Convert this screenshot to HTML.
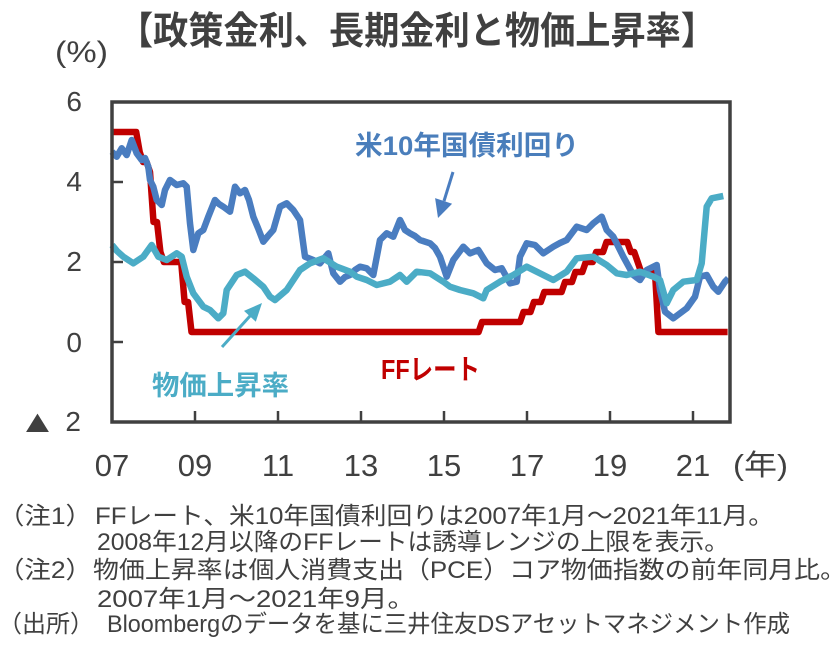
<!DOCTYPE html>
<html><head><meta charset="utf-8"><style>
html,body{margin:0;padding:0;background:#fff;}
svg{display:block;}
text{font-family:"Liberation Sans","Noto Sans CJK JP",sans-serif;}
</style></head><body>
<svg width="833" height="658" viewBox="0 0 833 658" xmlns="http://www.w3.org/2000/svg">
<rect width="833" height="658" fill="#fff"/>
<text x="118" y="44" font-size="38" font-weight="bold" fill="#404040" textLength="598" lengthAdjust="spacingAndGlyphs">【政策金利、長期金利と物価上昇率】</text>
<text x="55" y="62" font-size="30" fill="#404040" textLength="53" lengthAdjust="spacingAndGlyphs">(%)</text>

<g font-size="28" fill="#404040" text-anchor="end">
<text x="82" y="111">6</text>
<text x="82" y="191">4</text>
<text x="82" y="271">2</text>
<text x="82" y="352">0</text>
<text x="81" y="431">2</text>
</g>
<text x="26" y="429" font-size="24" fill="#404040" style="font-family:'DejaVu Sans',sans-serif" textLength="23" lengthAdjust="spacingAndGlyphs">▲</text>

<g font-size="31" fill="#404040" text-anchor="middle">
<text x="112" y="476">07</text>
<text x="195" y="476">09</text>
<text x="278" y="476">11</text>
<text x="361" y="476">13</text>
<text x="444" y="476">15</text>
<text x="527" y="476">17</text>
<text x="610" y="476">19</text>
<text x="693" y="476">21</text>
</g>
<text x="733" y="475" font-size="29" fill="#404040" textLength="55" lengthAdjust="spacingAndGlyphs">(年)</text>

<g stroke="#404040" stroke-width="2.5">
<line x1="112" y1="182" x2="123" y2="182"/>
<line x1="112" y1="262" x2="123" y2="262"/>
<line x1="112" y1="342" x2="123" y2="342"/>
<line x1="195" y1="422" x2="195" y2="411"/>
<line x1="278" y1="422" x2="278" y2="411"/>
<line x1="361" y1="422" x2="361" y2="411"/>
<line x1="444" y1="422" x2="444" y2="411"/>
<line x1="527" y1="422" x2="527" y2="411"/>
<line x1="610" y1="422" x2="610" y2="411"/>
<line x1="693" y1="422" x2="693" y2="411"/>
</g>

<g fill="none" stroke-width="6.5" stroke-linejoin="round" stroke-linecap="butt">
<polyline stroke="#c00000" points="112,132 136.2,132 139.7,152 143.1,162 146.6,162 150,172 153.5,222 157,222 160.4,252 163.9,262 181.2,262 184.6,302 188.1,302 191.5,332 478.6,332 482,322 520.1,322 523.5,312 530.5,312 533.9,302 540.8,302 544.3,292 561.6,292 565,282 572,282 575.4,272 582.3,272 585.8,262 592.7,262 596.2,252 603.1,252 606.5,242 627.3,242 630.8,252 634.2,252 637.7,262 641.1,272 655,272 658.4,332 727.6,332"/>
<polyline stroke="#4a7dc0" points="112,151.7 116.7,156.7 121.7,148.3 126.7,155 131.7,140 136.7,153.3 141.7,160 145,158 148.3,166.7 150,180 153.3,186.7 156.7,200 161.7,205 165,190 170,180 176.7,185 183.3,183.3 186.7,186.7 190,223.3 193.3,250 198.3,233.3 203.3,230 208.3,216.7 215,200 219,204 223.3,206.7 230,211.7 235,186.7 240,193.3 245,190 249,200 253.3,216.7 258,228 263.3,241.7 268,236 273.3,230 280,206.7 286.7,203.3 293.3,210 300,220 305,256.7 313.3,260 320,263.3 328.3,253.3 333.3,273.3 340,281.7 345,277 350,275 355,270 360,266.7 366.7,268.3 373.3,275 380,240 386.7,233.3 393.3,236.7 400,220 405,230 410,233.3 415,236 420,240 430,243.3 435,248 440,256.7 446.7,276.7 453.3,260 463.3,246.7 470,253.3 478.3,250 486.7,263.3 495,270 501.7,268.3 510,283.3 516.7,281.7 520,256.7 526.7,243.3 535,245 543.3,253.3 553.3,246.7 560,243 566.7,240 576.7,226.7 586.7,230 593.3,223.3 601.7,216.7 606.7,230 613.3,236.7 618,246 623.3,256.7 633.3,275 640,280 646.7,270 656.7,265 660,290 665,311.7 673.3,318.3 680,313.3 686.7,308.3 695,296.7 700,276.7 706.7,275 713.3,286.7 718.3,291.7 725,281.7 728.3,278.3"/>
<polyline stroke="#4bacc6" points="112,245 117,251 123.3,256.7 133.3,263.3 143.3,256.7 151.7,245 158.3,256.7 166.7,260 176.7,253.3 181.7,256.7 186.7,276.7 193.3,293.3 203.3,306.7 210,310 218.3,318.3 223.3,313.3 226.7,290 236.7,275 245,271.7 253.3,278.3 263.3,286.7 270,296.7 275,300 286.7,290 300,270 310,263.3 323.3,258.3 336.7,266.7 350,271.7 356.7,276.7 366.7,280 376.7,285 390,281.7 400,275 406.7,281.7 416.7,271.7 430,273.3 443.3,281.7 450,286.7 460,290 473.3,293.3 483.3,298.3 486.7,290 500,281.7 513.3,275 526.7,266.7 536.7,271.7 553.3,280 566.7,271.7 576.7,258.3 593.3,256.7 606.7,265 616.7,273.3 626.7,275 640,271.7 653.3,276.7 660,280 666.7,303.3 673.3,290 683.3,281.7 696.7,280 701.7,263.3 706.7,206.7 711.7,198.3 723.3,196"/>
</g>

<rect x="112" y="102" width="618" height="320" fill="none" stroke="#404040" stroke-width="3.5"/>

<line x1="453" y1="172" x2="444" y2="201" stroke="#4a7dc0" stroke-width="3"/>
<polygon points="438,218 452.1,203.7 435.1,198.1" fill="#4a7dc0"/>
<line x1="222" y1="347" x2="250" y2="316" stroke="#4bacc6" stroke-width="3"/>
<polygon points="262,303 255.8,321.7 244,310.9" fill="#4bacc6"/>

<text x="355" y="155" font-size="27" font-weight="bold" fill="#4a7ebb" textLength="224" lengthAdjust="spacingAndGlyphs">米10年国債利回り</text>
<text x="381" y="379" font-size="28" font-weight="bold" fill="#c00000" textLength="99" lengthAdjust="spacingAndGlyphs">FFレート</text>
<text x="152" y="395" font-size="27" font-weight="bold" fill="#4bacc6" textLength="137" lengthAdjust="spacingAndGlyphs">物価上昇率</text>

<g font-size="24" fill="#404040">
<text x="-2" y="524" textLength="94" lengthAdjust="spacingAndGlyphs">（注1）</text>
<text x="95" y="524" textLength="679" lengthAdjust="spacingAndGlyphs">FFレート、米10年国債利回りは2007年1月～2021年11月。</text>
<text x="97" y="550" textLength="632" lengthAdjust="spacingAndGlyphs">2008年12月以降のFFレートは誘導レンジの上限を表示。</text>
<text x="-2" y="578" textLength="94" lengthAdjust="spacingAndGlyphs">（注2）</text>
<text x="93" y="578" textLength="753" lengthAdjust="spacingAndGlyphs">物価上昇率は個人消費支出（PCE）コア物価指数の前年同月比。</text>
<text x="97" y="607" textLength="318" lengthAdjust="spacingAndGlyphs">2007年1月～2021年9月。</text>
<text x="-2" y="632" textLength="96" lengthAdjust="spacingAndGlyphs">（出所）</text>
<text x="107" y="632" textLength="683" lengthAdjust="spacingAndGlyphs">Bloombergのデータを基に三井住友DSアセットマネジメント作成</text>
</g>
</svg>
</body></html>
